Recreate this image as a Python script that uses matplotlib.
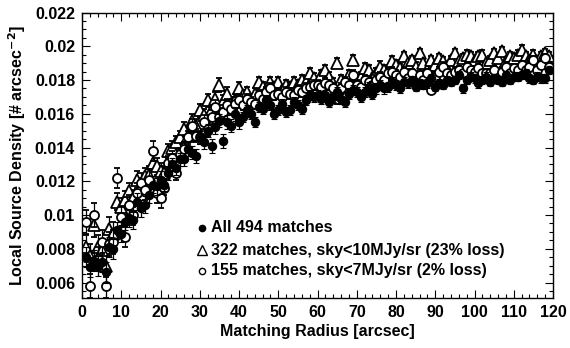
import matplotlib
matplotlib.use("Agg")
import matplotlib.pyplot as plt
from matplotlib.ticker import MultipleLocator

plt.rcParams['font.family'] = ['Liberation Sans', 'DejaVu Sans']
plt.rcParams['font.weight'] = 'bold'
plt.rcParams['mathtext.default'] = 'bf'

radius = list(range(1, 120))

dens_all = [
    0.0075, 0.0069, 0.0073, 0.0070, 0.0072, 0.0066, 0.0081, 0.0080, 0.0091, 0.0089,
    0.0096, 0.0098, 0.0097, 0.0108, 0.0104, 0.0106, 0.0112, 0.0118, 0.0117, 0.0121,
    0.0118, 0.0125, 0.0130, 0.0128, 0.0133, 0.0133, 0.0139, 0.0137, 0.0135, 0.0146,
    0.0143, 0.0150, 0.0141, 0.0152, 0.0156, 0.0144, 0.0155, 0.0153, 0.0160, 0.0155,
    0.0158, 0.0162, 0.0160, 0.0155, 0.0164, 0.0163, 0.0168, 0.0165, 0.0160, 0.0162,
    0.0166, 0.0161, 0.0162, 0.0167, 0.0165, 0.0163, 0.0168, 0.0171, 0.0170, 0.0171,
    0.0169, 0.0171, 0.0167, 0.0170, 0.0173, 0.0169, 0.0167, 0.0172, 0.0174, 0.0173,
    0.0170, 0.0173, 0.0176, 0.0172, 0.0175, 0.0177, 0.0175, 0.0176, 0.0179, 0.0177,
    0.0175, 0.0179, 0.0178, 0.0180, 0.0176, 0.0178, 0.0177, 0.0178, 0.0181, 0.0176,
    0.0178, 0.0177, 0.0180, 0.0179, 0.0180, 0.0183, 0.0175, 0.0180, 0.0182, 0.0181,
    0.0178, 0.0180, 0.0182, 0.0179, 0.0181, 0.0180, 0.0179, 0.0183, 0.0180, 0.0182,
    0.0182, 0.0183, 0.0184, 0.0181, 0.0180, 0.0182, 0.0181, 0.0181, 0.0186,
]

dens_322 = [
    0.0081, 0.0076, 0.0094, 0.0081, 0.0079, 0.0070, 0.0092, 0.0089, 0.0108, 0.0105,
    0.0109, 0.0114, 0.0110, 0.0121, 0.0117, 0.0123, 0.0124, 0.0131, 0.0129, 0.0126,
    0.0125, 0.0138, 0.0140, 0.0143, 0.0146, 0.0151, 0.0147, 0.0156, 0.0153, 0.0162,
    0.0159, 0.0168, 0.0163, 0.0169, 0.0177, 0.0167, 0.0172, 0.0166, 0.0168, 0.0175,
    0.0171, 0.0173, 0.0168, 0.0172, 0.0179, 0.0176, 0.0174, 0.0179, 0.0176, 0.0179,
    0.0174, 0.0177, 0.0176, 0.0179, 0.0177, 0.0180, 0.0179, 0.0184, 0.0181, 0.0178,
    0.0183, 0.0186, 0.0182, 0.0178, 0.0190, 0.0180, 0.0176, 0.0183, 0.0192, 0.0180,
    0.0182, 0.0187, 0.0186, 0.0181, 0.0184, 0.0188, 0.0186, 0.0183, 0.0191, 0.0189,
    0.0187, 0.0194, 0.0190, 0.0192, 0.0188, 0.0196, 0.0190, 0.0186, 0.0192, 0.0189,
    0.0193, 0.0191, 0.0187, 0.0192, 0.0196, 0.0191, 0.0193, 0.0195, 0.0194, 0.0192,
    0.0194, 0.0195, 0.0190, 0.0192, 0.0196, 0.0193, 0.0197, 0.0191, 0.0194, 0.0193,
    0.0195, 0.0198, 0.0194, 0.0192, 0.0195, 0.0191, 0.0194, 0.0196, 0.0194,
]

dens_155 = [
    0.0096, 0.0058, 0.0100, 0.0074, 0.0084, 0.0058, 0.0083, 0.0084, 0.0122, 0.0099,
    0.0087, 0.0106, 0.0100, 0.0113, 0.0119, 0.0115, 0.0121, 0.0138, 0.0113, 0.0110,
    0.0116, 0.0131, 0.0134, 0.0125, 0.0136, 0.0139, 0.0146, 0.0153, 0.0147, 0.0146,
    0.0155, 0.0151, 0.0158, 0.0164, 0.0158, 0.0161, 0.0165, 0.0163, 0.0166, 0.0168,
    0.0165, 0.0169, 0.0167, 0.0166, 0.0171, 0.0169, 0.0173, 0.0175, 0.0171, 0.0172,
    0.0170, 0.0173, 0.0172, 0.0171, 0.0174, 0.0173, 0.0175, 0.0176, 0.0177, 0.0177,
    0.0176, 0.0178, 0.0177, 0.0175, 0.0169, 0.0175, 0.0179, 0.0177, 0.0183, 0.0177,
    0.0176, 0.0180, 0.0179, 0.0177, 0.0180, 0.0182, 0.0180, 0.0184, 0.0185, 0.0183,
    0.0182, 0.0185, 0.0181, 0.0184, 0.0177, 0.0183, 0.0180, 0.0184, 0.0174, 0.0182,
    0.0185, 0.0188, 0.0184, 0.0183, 0.0185, 0.0186, 0.0184, 0.0188, 0.0186, 0.0185,
    0.0187, 0.0184, 0.0184, 0.0184, 0.0186, 0.0181, 0.0185, 0.0188, 0.0184, 0.0187,
    0.0186, 0.0189, 0.0186, 0.0188, 0.0192, 0.0186, 0.0189, 0.0193, 0.0188,
]

err_all = [0.0006] * 8 + [0.0005] * 12 + [0.0004] * 20 + [0.0003] * 40 + [0.00025] * 39
err_322 = [0.0007] * 8 + [0.0005] * 12 + [0.0004] * 20 + [0.0003] * 40 + [0.00025] * 39
err_155 = [0.0007] * 8 + [0.0006] * 12 + [0.0004] * 20 + [0.0003] * 40 + [0.00025] * 39

labels = [
    "All 494 matches",
    "322 matches, sky<10MJy/sr (23% loss)",
    "155 matches, sky<7MJy/sr (2% loss)",
]

FS = 11.5

fig = plt.figure(figsize=(5.70, 3.48), dpi=100)
ax = fig.add_axes([0.1439, 0.1445, 0.8263, 0.8195])

eb_kw = dict(ls='none', ecolor='black', elinewidth=0.9, capsize=2.4, capthick=0.9)
ax.errorbar(radius, dens_322, yerr=err_322, marker='^', ms=9, mfc='white',
            mec='black', mew=1.3, zorder=2, **eb_kw)
ax.errorbar(radius, dens_155, yerr=err_155, marker='o', ms=6.5, mfc='white',
            mec='black', mew=1.3, zorder=3, **eb_kw)
ax.errorbar(radius, dens_all, yerr=err_all, marker='o', ms=6, mfc='black',
            mec='black', mew=0.8, zorder=4, **eb_kw)

ax.set_xlim(0, 120)
ax.set_ylim(0.0051, 0.022)
ax.xaxis.set_major_locator(MultipleLocator(10))
ax.xaxis.set_minor_locator(MultipleLocator(2))
ax.yaxis.set_major_locator(MultipleLocator(0.002))
ax.yaxis.set_minor_locator(MultipleLocator(0.0005))
ax.yaxis.set_major_formatter(plt.FuncFormatter(lambda v, p: ('%.3f' % v).rstrip('0').rstrip('.')))
ax.tick_params(which='both', direction='in', top=True, right=True, width=0.8)
ax.tick_params(which='major', length=6, labelsize=FS, pad=5)
ax.tick_params(which='minor', length=3)
for lab in ax.get_xticklabels() + ax.get_yticklabels():
    lab.set_fontweight('bold')
for s in ax.spines.values():
    s.set_linewidth(1.0)

ax.set_xlabel("Matching Radius [arcsec]", fontsize=FS, fontweight='bold', labelpad=3)
ax.set_ylabel(r"Local Source Density [# arcsec$^{-2}$]", fontsize=FS,
              fontweight='bold', labelpad=5)

# key
key_y = [0.245, 0.167, 0.094]
key_style = [
    dict(marker='o', ms=4.5, mfc='black', mec='black'),
    dict(marker='^', ms=7, mfc='white', mec='black', mew=1.0),
    dict(marker='o', ms=4.5, mfc='white', mec='black', mew=1.0),
]
for yk, lab, st in zip(key_y, labels, key_style):
    ax.plot([0.254], [yk], transform=ax.transAxes, ls='none', clip_on=False, **st)
    ax.text(0.274, yk, lab, transform=ax.transAxes, fontsize=FS,
            fontweight='bold', va='center', ha='left')

fig.savefig("out.png", dpi=100)
